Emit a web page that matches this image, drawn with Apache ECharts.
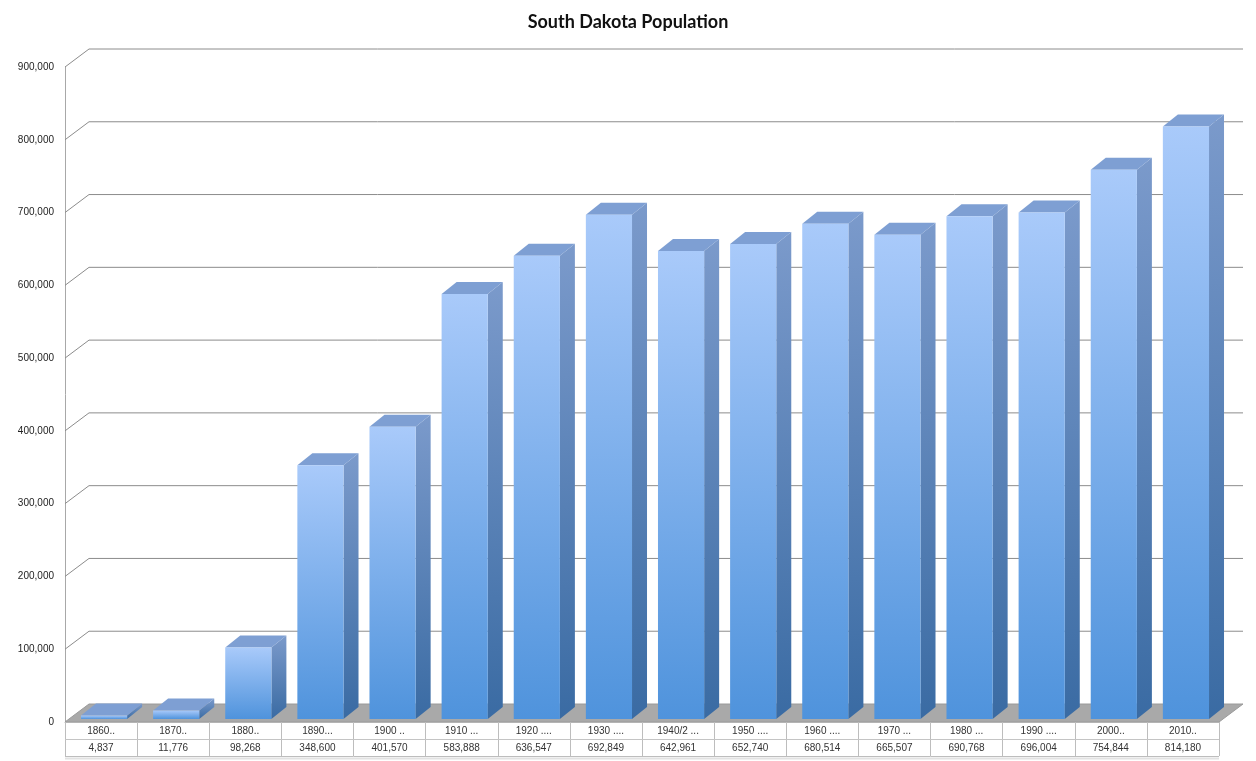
<!DOCTYPE html>
<html>
<head>
<meta charset="utf-8">
<script src="https://cdn.jsdelivr.net/npm/echarts@6/dist/echarts.min.js"></script>
<style>html,body{margin:0;padding:0;background:#fff}#c{width:1256px;height:761px}</style>
</head>
<body>
<div id="c"></div>
<script>
const categories = ["1860..","1870..","1880..","1890...","1900 ..","1910 ...","1920 ....","1930 ....","1940/2 ...","1950 ....","1960 ....","1970 ...","1980 ...","1990 ....","2000..","2010.."];
const population = [4837,11776,98268,348600,401570,583888,636547,692849,642961,652740,680514,665507,690768,696004,754844,814180];
const yTicks = [0,100000,200000,300000,400000,500000,600000,700000,800000,900000];

const fmt = v => v.toLocaleString('en-US');
const WALL_DX = 24, WALL_DY = -18;   // depth of back wall
const BAR_OX = 3, BAR_OY = -3;       // bar front inset
const BAR_DX = 15, BAR_DY = -12;     // bar depth

const chart = echarts.init(document.getElementById('c'));
chart.setOption({
  animation: false,
  backgroundColor: '#fff',
  title: {
    text: 'South Dakota Population', left: 'center', top: 8,
    textStyle: {fontFamily: 'Lato', fontWeight: 'bold', fontSize: 18, color: '#111'}
  },
  grid: {left: 65, right: 37, top: 67, bottom: 39},
  xAxis: {
    type: 'category', data: categories, z: 5,
    axisLine: {show: true, lineStyle: {color: '#b4b4b4', width: 1}},
    axisTick: {show: true, length: 34, interval: 0, lineStyle: {color: '#bdbdbd'}},
    axisLabel: {
      interval: 0, margin: 1,
      formatter: (v, i) => '{a|' + v + '}\n{b|' + fmt(population[i]) + '}',
      rich: {
        a: {fontFamily: 'Liberation Sans', fontSize: 10, color: '#333', lineHeight: 17},
        b: {fontFamily: 'Liberation Sans', fontSize: 10, color: '#333', lineHeight: 17}
      }
    }
  },
  yAxis: {
    type: 'value', min: 0, max: 900000, interval: 100000,
    axisLine: {show: true, lineStyle: {color: '#a8a8a8'}},
    axisTick: {show: false},
    splitLine: {show: false},
    axisLabel: {fontFamily: 'Liberation Sans', fontSize: 10, color: '#222', margin: 11, formatter: v => fmt(v)}
  },
  graphic: [
    {type: 'line', shape: {x1: 65, y1: 739.5, x2: 1219, y2: 739.5}, style: {stroke: '#c4c4c4', lineWidth: 1}, z: 10},
    {type: 'line', shape: {x1: 65, y1: 756.5, x2: 1219, y2: 756.5}, style: {stroke: '#bdbdbd', lineWidth: 1}, z: 10},
    {type: 'line', shape: {x1: 65, y1: 758.5, x2: 1219, y2: 758.5}, style: {stroke: '#e2e2e2', lineWidth: 2}, z: 10}
  ],
  series: [
    {
      type: 'custom', name: 'wall', z: 1, silent: true, clip: false,
      data: yTicks.map(v => [0, v]),
      renderItem: (params, api) => {
        const v = api.value(1);
        const cs = params.coordSys;
        const left = cs.x, right = cs.x + cs.width;
        const y = api.coord([0, v])[1];
        if (v === 0) {
          return {
            type: 'polygon',
            shape: {points: [[left, y], [right, y], [right + WALL_DX, y + WALL_DY], [left + WALL_DX, y + WALL_DY]]},
            style: {fill: '#a9a9a9', stroke: '#9a9a9a', lineWidth: 1}
          };
        }
        return {
          type: 'polyline',
          shape: {points: [[left, y], [left + WALL_DX, y + WALL_DY], [right + WALL_DX, y + WALL_DY]]},
          style: {stroke: '#8c8c8c', lineWidth: 1, fill: null}
        };
      }
    },
    {
      type: 'custom', name: 'Population', z: 3, clip: false,
      data: population.map((v, i) => [i, v]),
      renderItem: (params, api) => {
        const i = api.value(0), v = api.value(1);
        const base = api.coord([i, 0]);
        const top = api.coord([i, v]);
        const bw = api.size([1, 0])[0] * 0.64;
        const x0 = base[0] - bw / 2 + BAR_OX, x1 = x0 + bw;
        const yb = base[1] + BAR_OY, yt = top[1] + BAR_OY;
        return {
          type: 'group',
          children: [
            {type: 'polygon', shape: {points: [[x1, yt], [x1 + BAR_DX, yt + BAR_DY], [x1 + BAR_DX, yb + BAR_DY], [x1, yb]]},
              style: {fill: new echarts.graphic.LinearGradient(0, 0, 0, 1, [{offset: 0, color: '#7b9acb'}, {offset: 1, color: '#3a6ba3'}])}},
            {type: 'polygon', shape: {points: [[x0, yt], [x0 + BAR_DX, yt + BAR_DY], [x1 + BAR_DX, yt + BAR_DY], [x1, yt]]},
              style: {fill: '#7e9fd3'}},
            {type: 'rect', shape: {x: x0, y: yt, width: bw, height: Math.max(yb - yt, 0)},
              style: {fill: new echarts.graphic.LinearGradient(0, 0, 0, 1, [{offset: 0, color: '#a9cafa'}, {offset: 1, color: '#4f93dc'}])}}
          ]
        };
      }
    }
  ]
});
</script>
</body>
</html>
